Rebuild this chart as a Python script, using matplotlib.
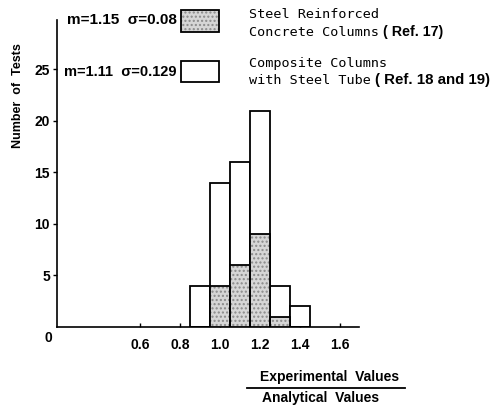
import matplotlib
matplotlib.use("Agg")
import matplotlib.pyplot as plt
from matplotlib.patches import Rectangle
from matplotlib.lines import Line2D

# Histogram bins (ratio of experimental to analytical values)
bin_left = [0.85, 0.95, 1.05, 1.15, 1.25, 1.35]
bin_width = 0.1
composite_counts = [4, 14, 16, 21, 4, 2]   # composite columns with steel tube
rc_counts = [0, 4, 6, 9, 1, 0]             # steel reinforced concrete columns

x_ticks = [0.6, 0.8, 1.0, 1.2, 1.4, 1.6]
x_tick_labels = ["0.6", "0.8", "1.0", "1.2", "1.4", "1.6"]
y_ticks = [5, 10, 15, 20, 25]

W, H = 496, 408
fig = plt.figure(figsize=(W / 100, H / 100), dpi=100)

SANS = "Liberation Sans"
MONO = "DejaVu Sans Mono"


def fx(px):
    return px / W


def fy(py):
    return 1 - py / H


left, right, bottom, top = 57, 359, 327, 20
ax = fig.add_axes([fx(left), fy(bottom), (right - left) / W, (bottom - top) / H])

# open bars (composite columns)
ax.bar(bin_left, composite_counts, width=bin_width, align="edge",
       facecolor="white", edgecolor="black", linewidth=1.3, zorder=2)
# stippled bars (reinforced concrete columns)
ax.bar(bin_left, rc_counts, width=bin_width, align="edge",
       facecolor="#d6d6d6", edgecolor="#8a8a8a", hatch="....", linewidth=0, zorder=3)
ax.bar(bin_left, rc_counts, width=bin_width, align="edge",
       facecolor="none", edgecolor="black", linewidth=1.3, zorder=4)

ax.set_xlim(0.185, 1.695)
ax.set_ylim(0, 29.8)
for s in ("top", "right"):
    ax.spines[s].set_visible(False)
for s in ("left", "bottom"):
    ax.spines[s].set_linewidth(1.2)

ax.set_xticks(x_ticks)
ax.set_xticklabels(x_tick_labels, fontfamily=SANS, fontweight="bold", fontsize=10)
ax.set_yticks(y_ticks)
ax.set_yticklabels([str(v) for v in y_ticks], fontfamily=SANS, fontweight="bold", fontsize=10)
ax.tick_params(axis="x", direction="in", length=3, width=1, pad=8)
ax.tick_params(axis="y", direction="out", length=3, width=1, pad=2)

# origin label of the broken axis
fig.text(fx(48), fy(338), "0", ha="center", va="center",
         fontfamily=SANS, fontweight="bold", fontsize=10)

fig.text(fx(18), fy(96), "Number  of  Tests", rotation=90, ha="center", va="center",
         fontfamily=SANS, fontweight="bold", fontsize=9)

# key
fig.text(fx(177), fy(20), "m=1.15  σ=0.08", ha="right", va="center",
         fontfamily=SANS, fontweight="bold", fontsize=11)
fig.text(fx(177), fy(72), "m=1.11  σ=0.129", ha="right", va="center",
         fontfamily=SANS, fontweight="bold", fontsize=10.5)

box1 = Rectangle((fx(181), fy(32)), 38 / W, 22 / H, transform=fig.transFigure,
                 facecolor="#d6d6d6", edgecolor="#8a8a8a", hatch="....", linewidth=0)
box1e = Rectangle((fx(181), fy(32)), 38 / W, 22 / H, transform=fig.transFigure,
                  facecolor="none", edgecolor="black", linewidth=1.3)
box2 = Rectangle((fx(181), fy(82)), 38 / W, 21 / H, transform=fig.transFigure,
                 facecolor="white", edgecolor="black", linewidth=1.3)
for p in (box1, box1e, box2):
    fig.add_artist(p)

fig.text(fx(249), fy(15), "Steel Reinforced", ha="left", va="center",
         fontfamily=MONO, fontsize=9.7)
fig.text(fx(249), fy(32), "Concrete Columns", ha="left", va="center",
         fontfamily=MONO, fontsize=9.7)
fig.text(fx(383), fy(32), "( Ref. 17)", ha="left", va="center",
         fontfamily=SANS, fontweight="bold", fontsize=10.3)
fig.text(fx(249), fy(63), "Composite Columns", ha="left", va="center",
         fontfamily=MONO, fontsize=9.7)
fig.text(fx(249), fy(80), "with Steel Tube", ha="left", va="center",
         fontfamily=MONO, fontsize=9.7)
fig.text(fx(375), fy(80), "( Ref. 18 and 19)", ha="left", va="center",
         fontfamily=SANS, fontweight="bold", fontsize=10.8)

# x-axis label as a fraction
fig.text(fx(330), fy(377), "Experimental  Values", ha="center", va="center",
         fontfamily=SANS, fontweight="bold", fontsize=10)
fig.add_artist(Line2D([fx(247), fx(405)], [fy(388), fy(388)],
                      transform=fig.transFigure, color="black", linewidth=1.3))
fig.text(fx(321), fy(398), "Analytical  Values", ha="center", va="center",
         fontfamily=SANS, fontweight="bold", fontsize=10)

fig.savefig("out.png", dpi=100, facecolor="white")
